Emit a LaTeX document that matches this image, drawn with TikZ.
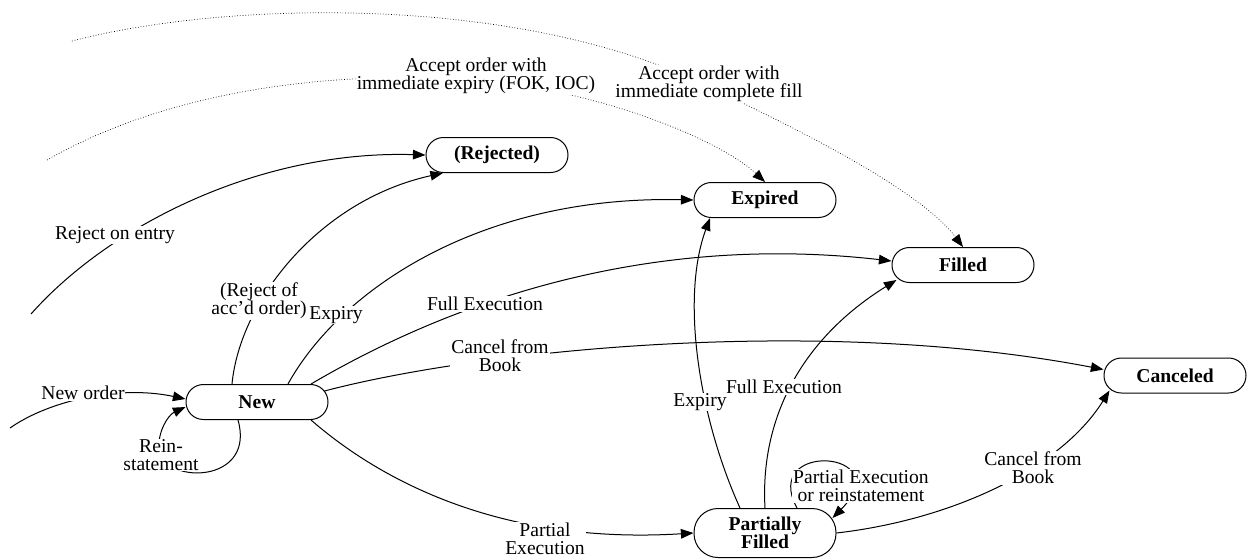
\documentclass[tikz,border=0pt]{standalone}
\usepackage{fontspec}
\setmainfont{Liberation Serif}
\usetikzlibrary{arrows.meta}
\begin{document}
\begin{tikzpicture}[x=0.5pt,y=-0.5pt,
  state/.style={draw, line width=0.5pt, rounded corners=8.7pt,
    minimum width=71pt, minimum height=17.5pt, inner sep=0pt, align=center,
    font=\bfseries\fontsize{9.8pt}{9pt}\selectfont},
  tall/.style={minimum height=24.5pt, rounded corners=12pt},
  lbl/.style={fill=white, inner sep=0.4pt, align=center,
    font=\fontsize{9.8pt}{9pt}\selectfont},
  edge/.style={line width=0.5pt, -{Triangle[length=6.3pt,width=4.8pt]}},
  hint/.style={edge, line width=0.35pt, densely dotted},
]
\useasboundingbox (0,0) rectangle (1250,558);

% states
\node[state] (rej) at (497,155) {(Rejected)};
\node[state] (exp) at (765,200) {Expired};
\node[state] (fil) at (963,265) {Filled};
\node[state] (can) at (1175,375.5) {Canceled};
\node[state] (new) at (257,402) {New};
\node[state,tall] (pf) at (765,533) {Partially\\Filled};

% free ends of the entry transitions
\coordinate (s1) at (72,41);
\coordinate (s2) at (47,160);
\coordinate (s3) at (31,314);
\coordinate (s4) at (10,428);

% entry transitions
\draw[hint] (s1) .. controls (230,0) and (520,-5) .. (705,85)
  .. controls (800,130) and (920,190) .. (fil.north);
\draw[hint] (s2) .. controls (170,90) and (330,70) .. (476,80)
  .. controls (600,90) and (720,140) .. (exp.north);
\draw[edge] (s3) .. controls (110,225) and (260,150) .. (rej.west);
\draw[edge] (s4) .. controls (50,400) and (120,385) .. ([yshift=1.5pt]new.west);

% transitions from New
\draw[edge] ([xshift=-12.5pt]new.north) .. controls (240,300) and (320,200) .. ([xshift=-27pt]rej.south);
\draw[edge] ([xshift=15.5pt]new.north) .. controls (340,290) and (480,195) .. (exp.west);
\draw[edge] ([xshift=27pt]new.north) .. controls (420,320) and (620,230) .. ([yshift=2pt]fil.west);
\draw[edge] ([shift={(-2pt,5.5pt)}]new.east) .. controls (480,350) and (820,315) .. ([yshift=3pt]can.west);
\draw[edge] ([xshift=27pt]new.south) .. controls (380,480) and (500,545) .. (pf.west);
\draw[edge] ([xshift=-9.5pt]new.south) .. controls (255,480) and (175,485) .. (160,455)
  .. controls (155,435) and (168,415) .. ([yshift=-2.5pt]new.west);

% transitions from Partially Filled
\draw[edge] ([xshift=-12.5pt]pf.north) .. controls (700,420) and (680,300) .. ([xshift=-27.5pt]exp.south);
\draw[edge] (pf.north) .. controls (760,420) and (800,340) .. ([shift={(2.5pt,1.5pt)}]fil.south west);
\draw[edge] (pf.east) .. controls (950,520) and (1060,470) .. ([shift={(3pt,1.5pt)}]can.south west);
\draw[edge] ([xshift=16pt]pf.north) .. controls (760,440) and (900,450) .. ([shift={(-2pt,-5pt)}]pf.north east);

% transition labels
\node[lbl] (l1) at (709,84) {Accept order with\\immediate complete fill};
\node[lbl] (l2) at (476,76) {Accept order with\\immediate expiry (FOK, IOC)};
\node[lbl] (l3) at (115,235) {Reject on entry};
\node[lbl] (l4) at (83,393) {New order};
\node[lbl] (l5) at (259,301) {(Reject of\\acc'd order)};
\node[lbl] (l6) at (336,315) {Expiry};
\node[lbl] (l7) at (485,304) {Full Execution};
\node[lbl] (l8) at (500,356) {Cancel from\\Book};
\node[lbl] (l9) at (545,539) {Partial\\Execution};
\node[lbl] (l10) at (161,455) {Rein-\\statement};
\node[lbl] (l11) at (700,402) {Expiry};
\node[lbl] (l12) at (784,387) {Full Execution};
\node[lbl] (l13) at (1033,468) {Cancel from\\Book};
\node[lbl] (l14) at (861,486) {Partial Execution\\or reinstatement};
\end{tikzpicture}
\end{document}
